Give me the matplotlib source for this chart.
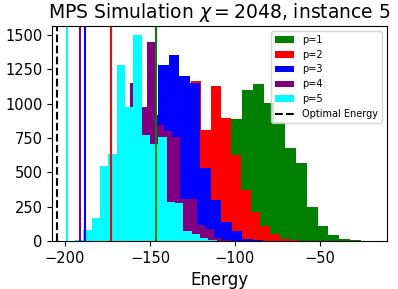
import numpy as np
import matplotlib
matplotlib.use("Agg")
import matplotlib.pyplot as plt

# histogram counts per p (20 bins each)
labels = ["p=1", "p=2", "p=3", "p=4", "p=5"]
colors = ["green", "red", "blue", "purple", "cyan"]

# (min energy, max energy) range of each histogram
ranges = [(-146.6, -19.6), (-172.8, -55.7), (-188.4, -64.8), (-191.0, -92.8), (-199.0, -101.0)]

counts_p1 = [1, 3, 10, 30, 80, 200, 450, 887, 1096, 1143, 1004, 869, 675, 568, 250, 106, 47, 12, 4, 2]
counts_p2 = [2, 10, 30, 80, 180, 350, 600, 900, 1162, 808, 1130, 894, 626, 370, 211, 106, 52, 18, 5, 2]
counts_p3 = [3, 20, 80, 250, 500, 850, 918, 1284, 1357, 1199, 1150, 535, 298, 140, 72, 18, 5, 2, 1, 1]
counts_p4 = [5, 40, 120, 400, 600, 900, 1150, 975, 1447, 845, 800, 760, 309, 309, 120, 84, 23, 10, 3, 1]
counts_p5 = [1, 9, 82, 165, 545, 633, 1284, 977, 1496, 772, 706, 760, 284, 277, 72, 52, 23, 5, 2, 1]
all_counts = [counts_p1, counts_p2, counts_p3, counts_p4, counts_p5]

optimal_energy = -205.0

fig = plt.figure(figsize=(3.98, 2.89), dpi=100)
ax = fig.add_axes([0.131, 0.166, 0.841, 0.744])

handles = []
for lab, col, (lo, hi), cnt in zip(labels, colors, ranges, all_counts):
    edges = np.linspace(lo, hi, len(cnt) + 1)
    centers = 0.5 * (edges[:-1] + edges[1:])
    _, _, patches = ax.hist(centers, bins=edges, weights=cnt, color=col, label=lab)
    handles.append(patches[0])

# lowest energy reached for each p
for col, (lo, hi) in zip(colors, ranges):
    ax.axvline(lo, color=col)

opt = ax.axvline(optimal_energy, color="black", linestyle="--", label="Optimal Energy")
handles.append(opt)

ax.set_xlim(-207.6, -10.6)
ax.set_ylim(0, 1565)
ax.set_xticks([-200, -150, -100, -50])
ax.set_yticks([0, 250, 500, 750, 1000, 1250, 1500])
ax.tick_params(labelsize=10.5)
ax.set_xlabel("Energy", fontsize=12)
ax.set_title(r"MPS Simulation $\chi = 2048$, instance 5", fontsize=13.5)
ax.legend(handles=handles, labels=labels + ["Optimal Energy"], loc="upper right", fontsize=7)

fig.savefig("out.png", dpi=100)
